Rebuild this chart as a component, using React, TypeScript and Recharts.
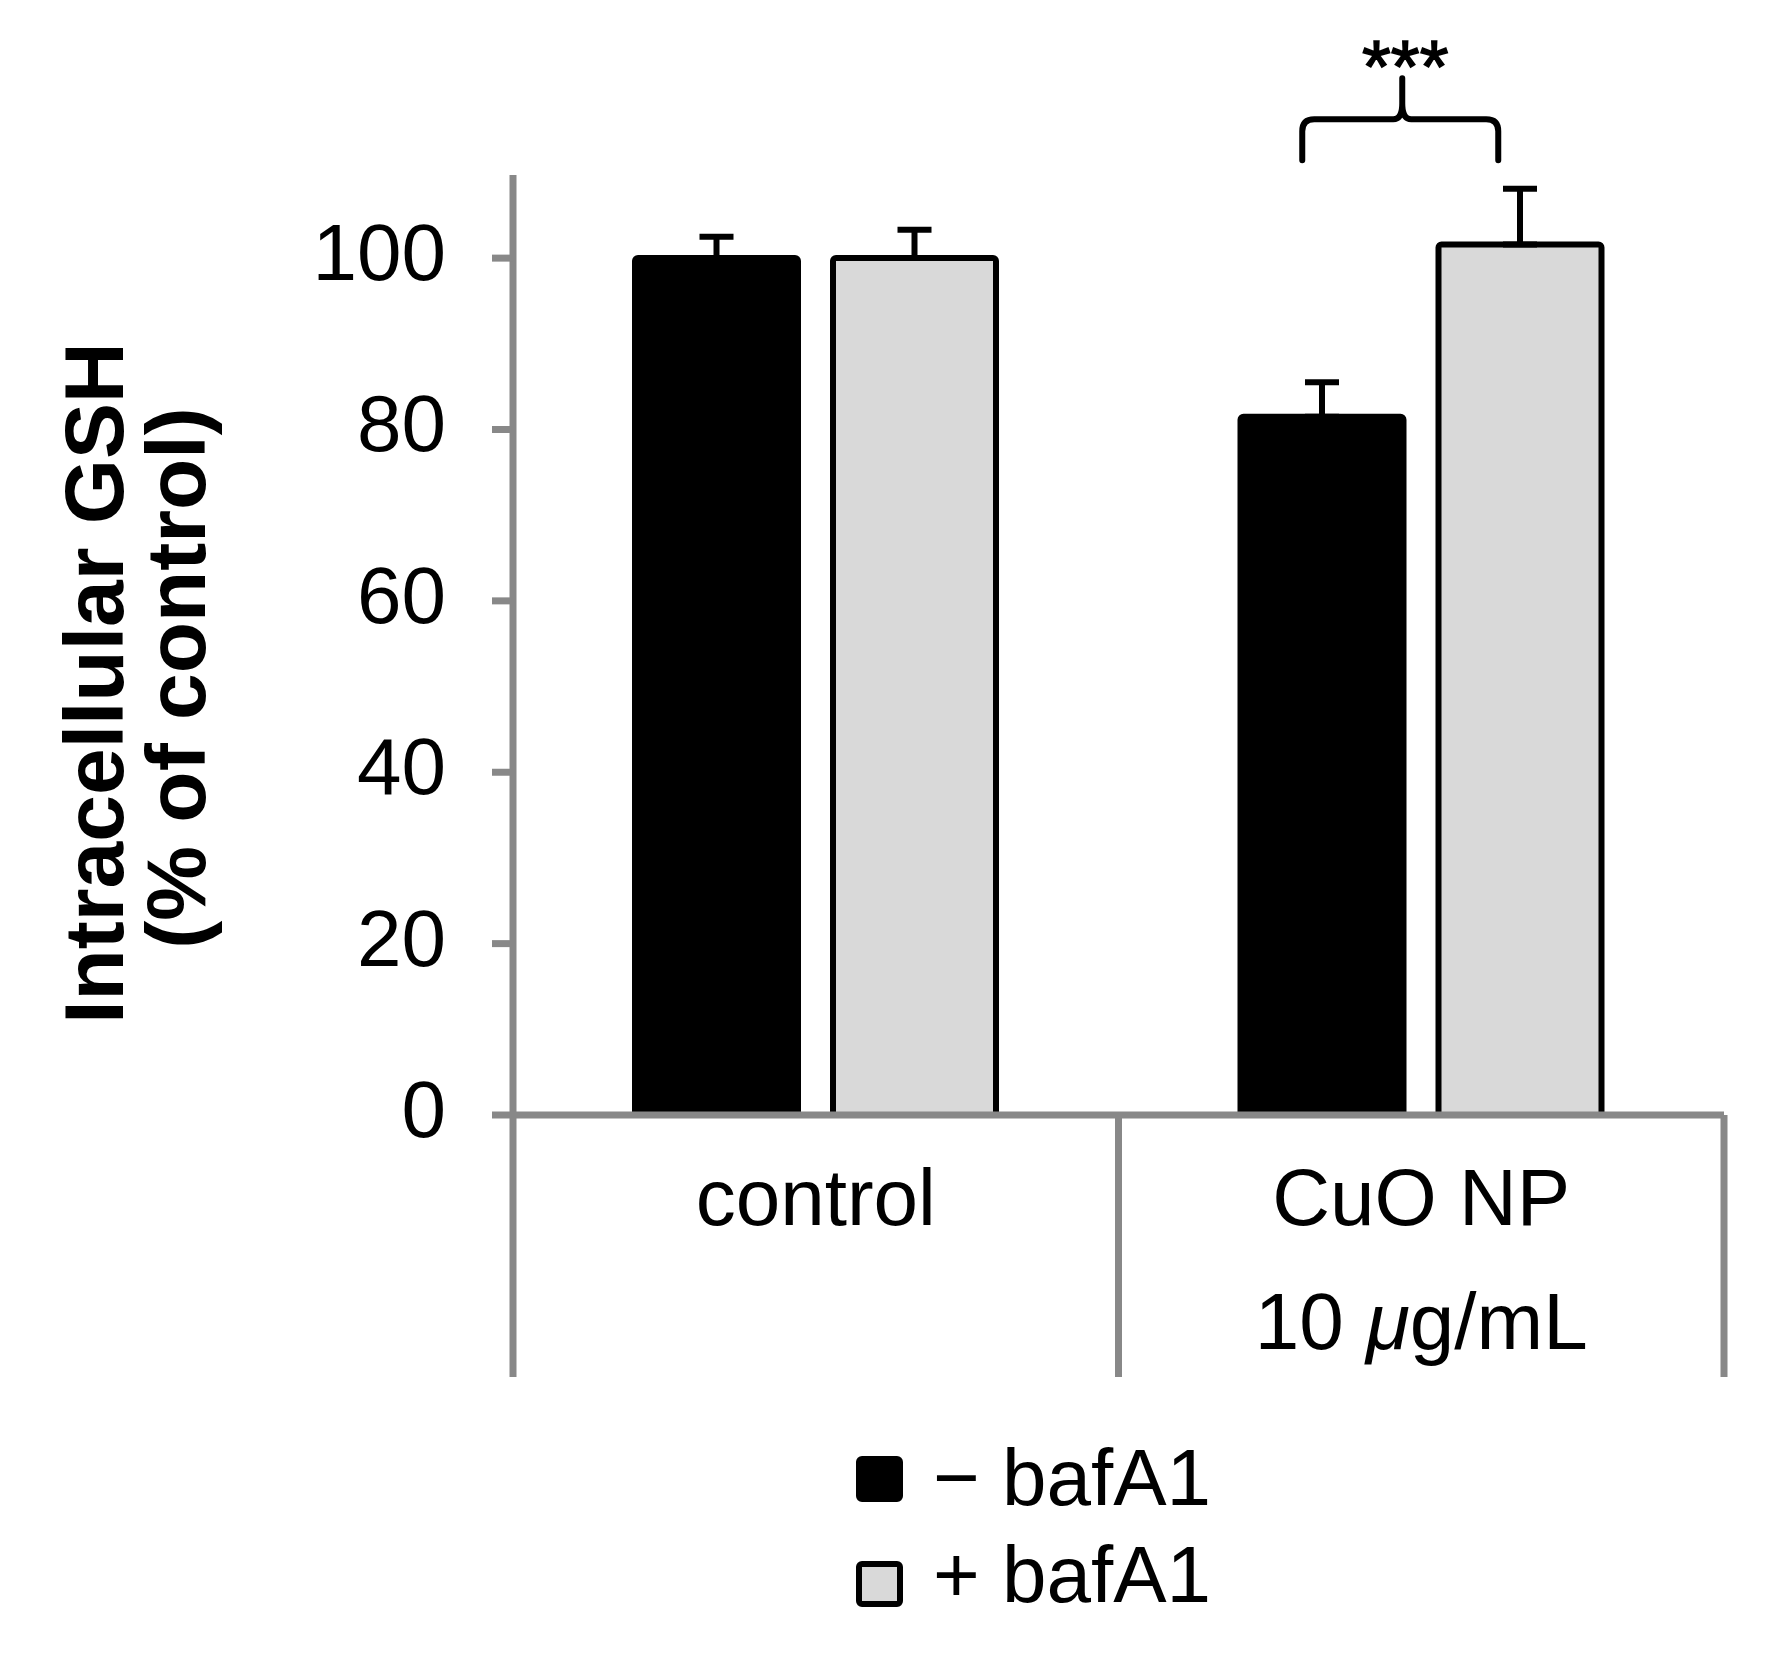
import React from 'react'
import { BarChart, Bar, XAxis, YAxis, ErrorBar, ReferenceDot } from 'recharts'

// groups on the x axis
const groups = ['control', 'CuO NP']
const groupSubLabels = ['', '10 μg/mL']

// series
const seriesNames = ['− bafA1', '+ bafA1']
const seriesColors = ['#000000', '#d9d9d9']
const minusBafA1 = [100, 81.5]
const plusBafA1 = [100, 101.6]
const minusBafA1Err = [2.5, 4.0]
const plusBafA1Err = [3.3, 6.5]

const yTicks = [0, 20, 40, 60, 80, 100]

// significance bracket
const sigGroup = 'CuO NP'
const sigLabel = '***'
const sigLevel = 116.2

const FONT = '"Liberation Sans", Arial, Helvetica, sans-serif'
const AXIS_GREY = '#888888'

const W = 1771
const H = 1660
const PLOT_LEFT = 513
const PLOT_RIGHT = 1724
const HALF_BAND = (PLOT_RIGHT - PLOT_LEFT) / groups.length / 2

const data = groups.map((name, i) => ({
  name,
  sub: groupSubLabels[i],
  minus: minusBafA1[i],
  plus: plusBafA1[i],
  minusErr: [0, minusBafA1Err[i]],
  plusErr: [0, plusBafA1Err[i]]
}))

function GroupTick(props: any) {
  const { x, y, payload, index } = props
  const sub: string = groupSubLabels[index] ?? ''
  const parts = sub.split('μ')
  return (
    <g>
      <line x1={x - HALF_BAND} y1={y} x2={x - HALF_BAND} y2={y + 262} stroke={AXIS_GREY} strokeWidth={7} />
      <line x1={x + HALF_BAND} y1={y} x2={x + HALF_BAND} y2={y + 262} stroke={AXIS_GREY} strokeWidth={7} />
      <text x={x} y={y + 110} textAnchor="middle" fontSize={80} fontFamily={FONT} fill="#000">
        {payload.value}
      </text>
      {sub && (
        <text x={x} y={y + 234} textAnchor="middle" fontSize={80} fontFamily={FONT} fill="#000">
          {parts[0]}
          {parts.length > 1 && <tspan fontStyle="italic">μ</tspan>}
          {parts.length > 1 && parts[1]}
        </text>
      )}
    </g>
  )
}

function ValueTick(props: any) {
  const { x, y, payload } = props
  return (
    <text x={x} y={y + 22} textAnchor="end" fontSize={80} fontFamily={FONT} fill="#000">
      {payload.value}
    </text>
  )
}

function YLabel() {
  return (
    <g fontFamily={FONT} fontWeight="bold" fontSize={84} fill="#000">
      <text x={0} y={0} textAnchor="middle" transform="translate(123, 683) rotate(-90)">
        Intracellular GSH
      </text>
      <text x={0} y={0} textAnchor="middle" transform="translate(205, 678) rotate(-90)">
        (% of control)
      </text>
    </g>
  )
}

function Brace(props: any) {
  const { cx, cy } = props
  const left = cx - 119
  const right = cx + 77
  const tip = cx - 19
  const r = 12
  const d = [
    `M ${left} ${cy + 41} L ${left} ${cy + r} Q ${left} ${cy} ${left + r} ${cy}`,
    `L ${tip - 9} ${cy} Q ${tip} ${cy} ${tip} ${cy - 16} L ${tip} ${cy - 41}`,
    `M ${tip} ${cy - 16} Q ${tip} ${cy} ${tip + 9} ${cy}`,
    `L ${right - r} ${cy} Q ${right} ${cy} ${right} ${cy + r} L ${right} ${cy + 41}`
  ].join(' ')
  return (
    <g>
      <path d={d} fill="none" stroke="#000" strokeWidth={6} strokeLinecap="round" strokeLinejoin="round" />
      <text x={tip + 3} y={cy - 27} textAnchor="middle" fontSize={74} fontFamily={FONT} fill="#000" stroke="#000" strokeWidth={1.5}>
        {sigLabel}
      </text>
    </g>
  )
}

function LegendBox() {
  return (
    <svg width={W} height={H} style={{ position: 'absolute', left: 0, top: 0, pointerEvents: 'none' }}>
      {seriesNames.map((name, i) => (
        <g key={name}>
          <rect
            x={859}
            y={1459 + i * 105}
            width={41}
            height={40}
            rx={3}
            fill={seriesColors[i]}
            stroke="#000"
            strokeWidth={6}
          />
          <text x={933} y={1505 + i * 97} fontSize={80} fontFamily={FONT} fill="#000">
            {name}
          </text>
        </g>
      ))}
    </svg>
  )
}

export default function App() {
  return (
    <div style={{ position: 'absolute', left: 0, top: 0, width: W, height: H, background: '#fff' }}>
      <BarChart
        width={W}
        height={H}
        data={data}
        margin={{ top: 175, right: W - PLOT_RIGHT, bottom: 245, left: 13 }}
        barSize={163}
        barGap={35}
      >
        <Bar dataKey="minus" name={seriesNames[0]} fill={seriesColors[0]} stroke="#000" strokeWidth={6} radius={3} isAnimationActive={false}>
          <ErrorBar dataKey="minusErr" direction="y" width={17} stroke="#000" strokeWidth={6} />
        </Bar>
        <Bar dataKey="plus" name={seriesNames[1]} fill={seriesColors[1]} stroke="#000" strokeWidth={6} radius={3} isAnimationActive={false}>
          <ErrorBar dataKey="plusErr" direction="y" width={17} stroke="#000" strokeWidth={6} />
        </Bar>
        <XAxis
          dataKey="name"
          type="category"
          height={300}
          axisLine={{ stroke: AXIS_GREY, strokeWidth: 7 }}
          tickLine={false}
          tickSize={0}
          tickMargin={0}
          interval={0}
          tick={<GroupTick />}
        />
        <YAxis
          width={500}
          domain={[0, 109.7]}
          ticks={yTicks}
          allowDataOverflow
          axisLine={{ stroke: AXIS_GREY, strokeWidth: 7 }}
          tickLine={{ stroke: AXIS_GREY, strokeWidth: 7 }}
          tickSize={21}
          tickMargin={46}
          tick={<ValueTick />}
          label={{ content: () => <YLabel /> }}
        />
        <ReferenceDot
          x={sigGroup}
          y={sigLevel}
          ifOverflow="visible"
          shape={(p: any) => <Brace {...p} />}
        />
      </BarChart>
      <LegendBox />
    </div>
  )
}
